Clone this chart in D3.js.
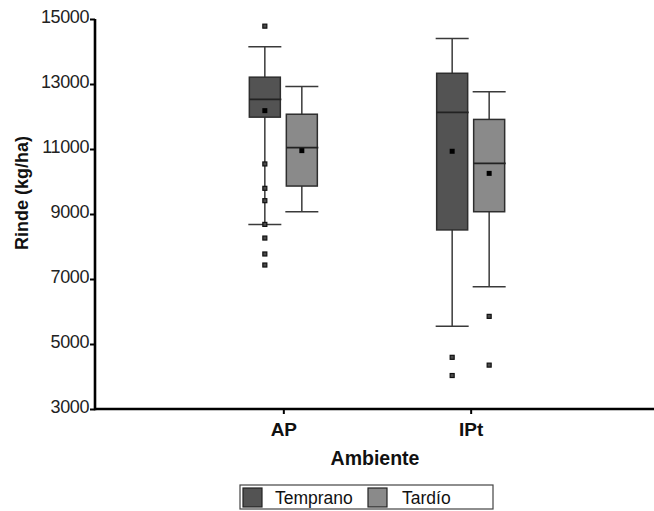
<!DOCTYPE html>
<html>
<head>
<meta charset="utf-8">
<script src="https://cdn.jsdelivr.net/npm/d3@7"></script>
<style>
  html, body { margin: 0; padding: 0; background: #fff; }
  svg { display: block; font-family: "Liberation Sans", Arial, sans-serif; }
</style>
</head>
<body>
<div id="chart"><svg></svg></div>
<script>
var categories = ['AP', 'IPt'];
var seriesNames = ['Temprano', 'Tardío'];
var yTicks = [3000, 5000, 7000, 9000, 11000, 13000, 15000];

// per series, one value for each category
var tempranoLow = [8680, 5550];
var tempranoQ1 = [11980, 8510];
var tempranoMedian = [12530, 12130];
var tempranoQ3 = [13210, 13330];
var tempranoHigh = [14150, 14400];
var tempranoMean = [12180, 10930];
var tempranoOutliers = [[14780, 10540, 9790, 9410, 8680, 8260, 7770, 7430], [4590, 4030]];

var tardioLow = [9070, 6760];
var tardioQ1 = [9860, 9070];
var tardioMedian = [11040, 10560];
var tardioQ3 = [12070, 11910];
var tardioHigh = [12920, 12760];
var tardioMean = [10950, 10250];
var tardioOutliers = [[], [5850, 4350]];

(function() {
  'use strict';
  var svg, width = 654, height = 511, margin, x, xSub, y, boxes, fills, g, legend;

  margin = {top: 19, left: 95, bottom: 102};
  fills = {'Temprano': '#535353', 'Tardío': '#8a8a8a'};

  boxes = [];
  categories.forEach(function(c, i) {
    boxes.push({cat: c, series: 'Temprano', low: tempranoLow[i], q1: tempranoQ1[i], median: tempranoMedian[i],
      q3: tempranoQ3[i], high: tempranoHigh[i], mean: tempranoMean[i], outliers: tempranoOutliers[i]});
    boxes.push({cat: c, series: 'Tardío', low: tardioLow[i], q1: tardioQ1[i], median: tardioMedian[i],
      q3: tardioQ3[i], high: tardioHigh[i], mean: tardioMean[i], outliers: tardioOutliers[i]});
  });

  svg = d3.select('#chart svg').attr('width', width).attr('height', height);

  x = d3.scalePoint()
      .domain(categories)
      .range([margin.left + 1, 658])
      .padding(1);

  xSub = d3.scaleBand()
      .domain(seriesNames)
      .range([-34, 34])
      .paddingInner(0.162);

  y = d3.scaleLinear()
      .domain([3000, 15000])
      .range([height - margin.bottom, margin.top]);

  // y axis
  g = svg.append('g')
      .attr('transform', 'translate(' + margin.left + ',0)')
      .call(d3.axisLeft(y).tickValues(yTicks).tickSize(5).tickPadding(1).tickFormat(d3.format('d')));
  g.select('.domain').remove();
  g.selectAll('.tick line').attr('stroke', '#000').attr('stroke-width', 2);
  g.selectAll('.tick text')
      .attr('fill', '#222')
      .attr('dy', '0.2em')
      .style('font-size', '18px')
      .style('letter-spacing', '-0.4px');

  // x axis
  g = svg.append('g')
      .attr('transform', 'translate(0,' + y(3000) + ')')
      .call(d3.axisBottom(x).tickSize(5).tickPadding(9));
  g.select('.domain').remove();
  g.selectAll('.tick line').attr('stroke', '#000').attr('stroke-width', 2);
  g.selectAll('.tick text')
      .attr('fill', '#111')
      .attr('font-weight', 'bold')
      .style('font-size', '19px');

  svg.append('line')
      .attr('x1', margin.left).attr('x2', width)
      .attr('y1', y(3000)).attr('y2', y(3000))
      .attr('stroke', '#000').attr('stroke-width', 2.6);
  svg.append('line')
      .attr('x1', margin.left).attr('x2', margin.left)
      .attr('y1', y(15000)).attr('y2', y(3000) + 1.3)
      .attr('stroke', '#000').attr('stroke-width', 2.6);

  // axis titles
  svg.append('text')
      .attr('transform', 'translate(28,' + (y(9000) - 21) + ') rotate(-90)')
      .attr('text-anchor', 'middle')
      .attr('font-weight', 'bold')
      .style('font-size', '18px')
      .attr('fill', '#111')
      .text('Rinde (kg/ha)');

  svg.append('text')
      .attr('x', 375)
      .attr('y', 465)
      .attr('text-anchor', 'middle')
      .attr('font-weight', 'bold')
      .style('font-size', '19.5px')
      .attr('fill', '#111')
      .text('Ambiente');

  // boxes
  var bw = xSub.bandwidth();
  var b = svg.append('g').selectAll('g')
      .data(boxes)
    .enter().append('g')
      .attr('transform', function(d) {
        return 'translate(' + (x(d.cat) + xSub(d.series) + bw / 2) + ',0)';
      });

  b.append('line')
      .attr('x1', 0).attr('x2', 0)
      .attr('y1', function(d) { return y(d.high); })
      .attr('y2', function(d) { return y(d.low); })
      .attr('stroke', '#3a3a3a').attr('stroke-width', 1.5);

  b.selectAll('.cap')
      .data(function(d) { return [d.low, d.high]; })
    .enter().append('line')
      .attr('class', 'cap')
      .attr('x1', -bw / 2 - 1).attr('x2', bw / 2 + 1)
      .attr('y1', function(v) { return y(v); })
      .attr('y2', function(v) { return y(v); })
      .attr('stroke', '#3a3a3a').attr('stroke-width', 1.5);

  b.append('rect')
      .attr('x', -bw / 2)
      .attr('width', bw)
      .attr('y', function(d) { return y(d.q3); })
      .attr('height', function(d) { return y(d.q1) - y(d.q3); })
      .attr('fill', function(d) { return fills[d.series]; })
      .attr('stroke', '#2e2e2e').attr('stroke-width', 1.5);

  b.append('line')
      .attr('x1', -bw / 2).attr('x2', bw / 2 + 1)
      .attr('y1', function(d) { return y(d.median); })
      .attr('y2', function(d) { return y(d.median); })
      .attr('stroke', '#222').attr('stroke-width', 1.8);

  b.append('rect')
      .attr('x', -2.5).attr('width', 5).attr('height', 5)
      .attr('y', function(d) { return y(d.mean) - 2.5; })
      .attr('fill', '#000');

  b.selectAll('.out')
      .data(function(d) { return d.outliers; })
    .enter().append('rect')
      .attr('class', 'out')
      .attr('x', -2).attr('width', 4).attr('height', 4)
      .attr('y', function(v) { return y(v) - 2; })
      .attr('fill', '#4a4a4a')
      .attr('stroke', '#111').attr('stroke-width', 1.2);

  // legend
  legend = svg.append('g').attr('transform', 'translate(240,485)');
  legend.append('rect')
      .attr('width', 253).attr('height', 24)
      .attr('fill', '#fff')
      .attr('stroke', '#444').attr('stroke-width', 1.2);
  var item = legend.selectAll('.item')
      .data(seriesNames)
    .enter().append('g')
      .attr('class', 'item')
      .attr('transform', function(d, i) { return 'translate(' + (3 + i * 125) + ',3)'; });
  item.append('rect')
      .attr('width', 19).attr('height', 19)
      .attr('fill', function(d) { return fills[d]; })
      .attr('stroke', '#222').attr('stroke-width', 1.2);
  item.append('text')
      .attr('x', function(d, i) { return i === 0 ? 32 : 34; })
      .attr('y', 16)
      .style('font-size', '17.5px')
      .attr('fill', '#111')
      .text(function(d) { return d; });
}());
</script>
</body>
</html>
